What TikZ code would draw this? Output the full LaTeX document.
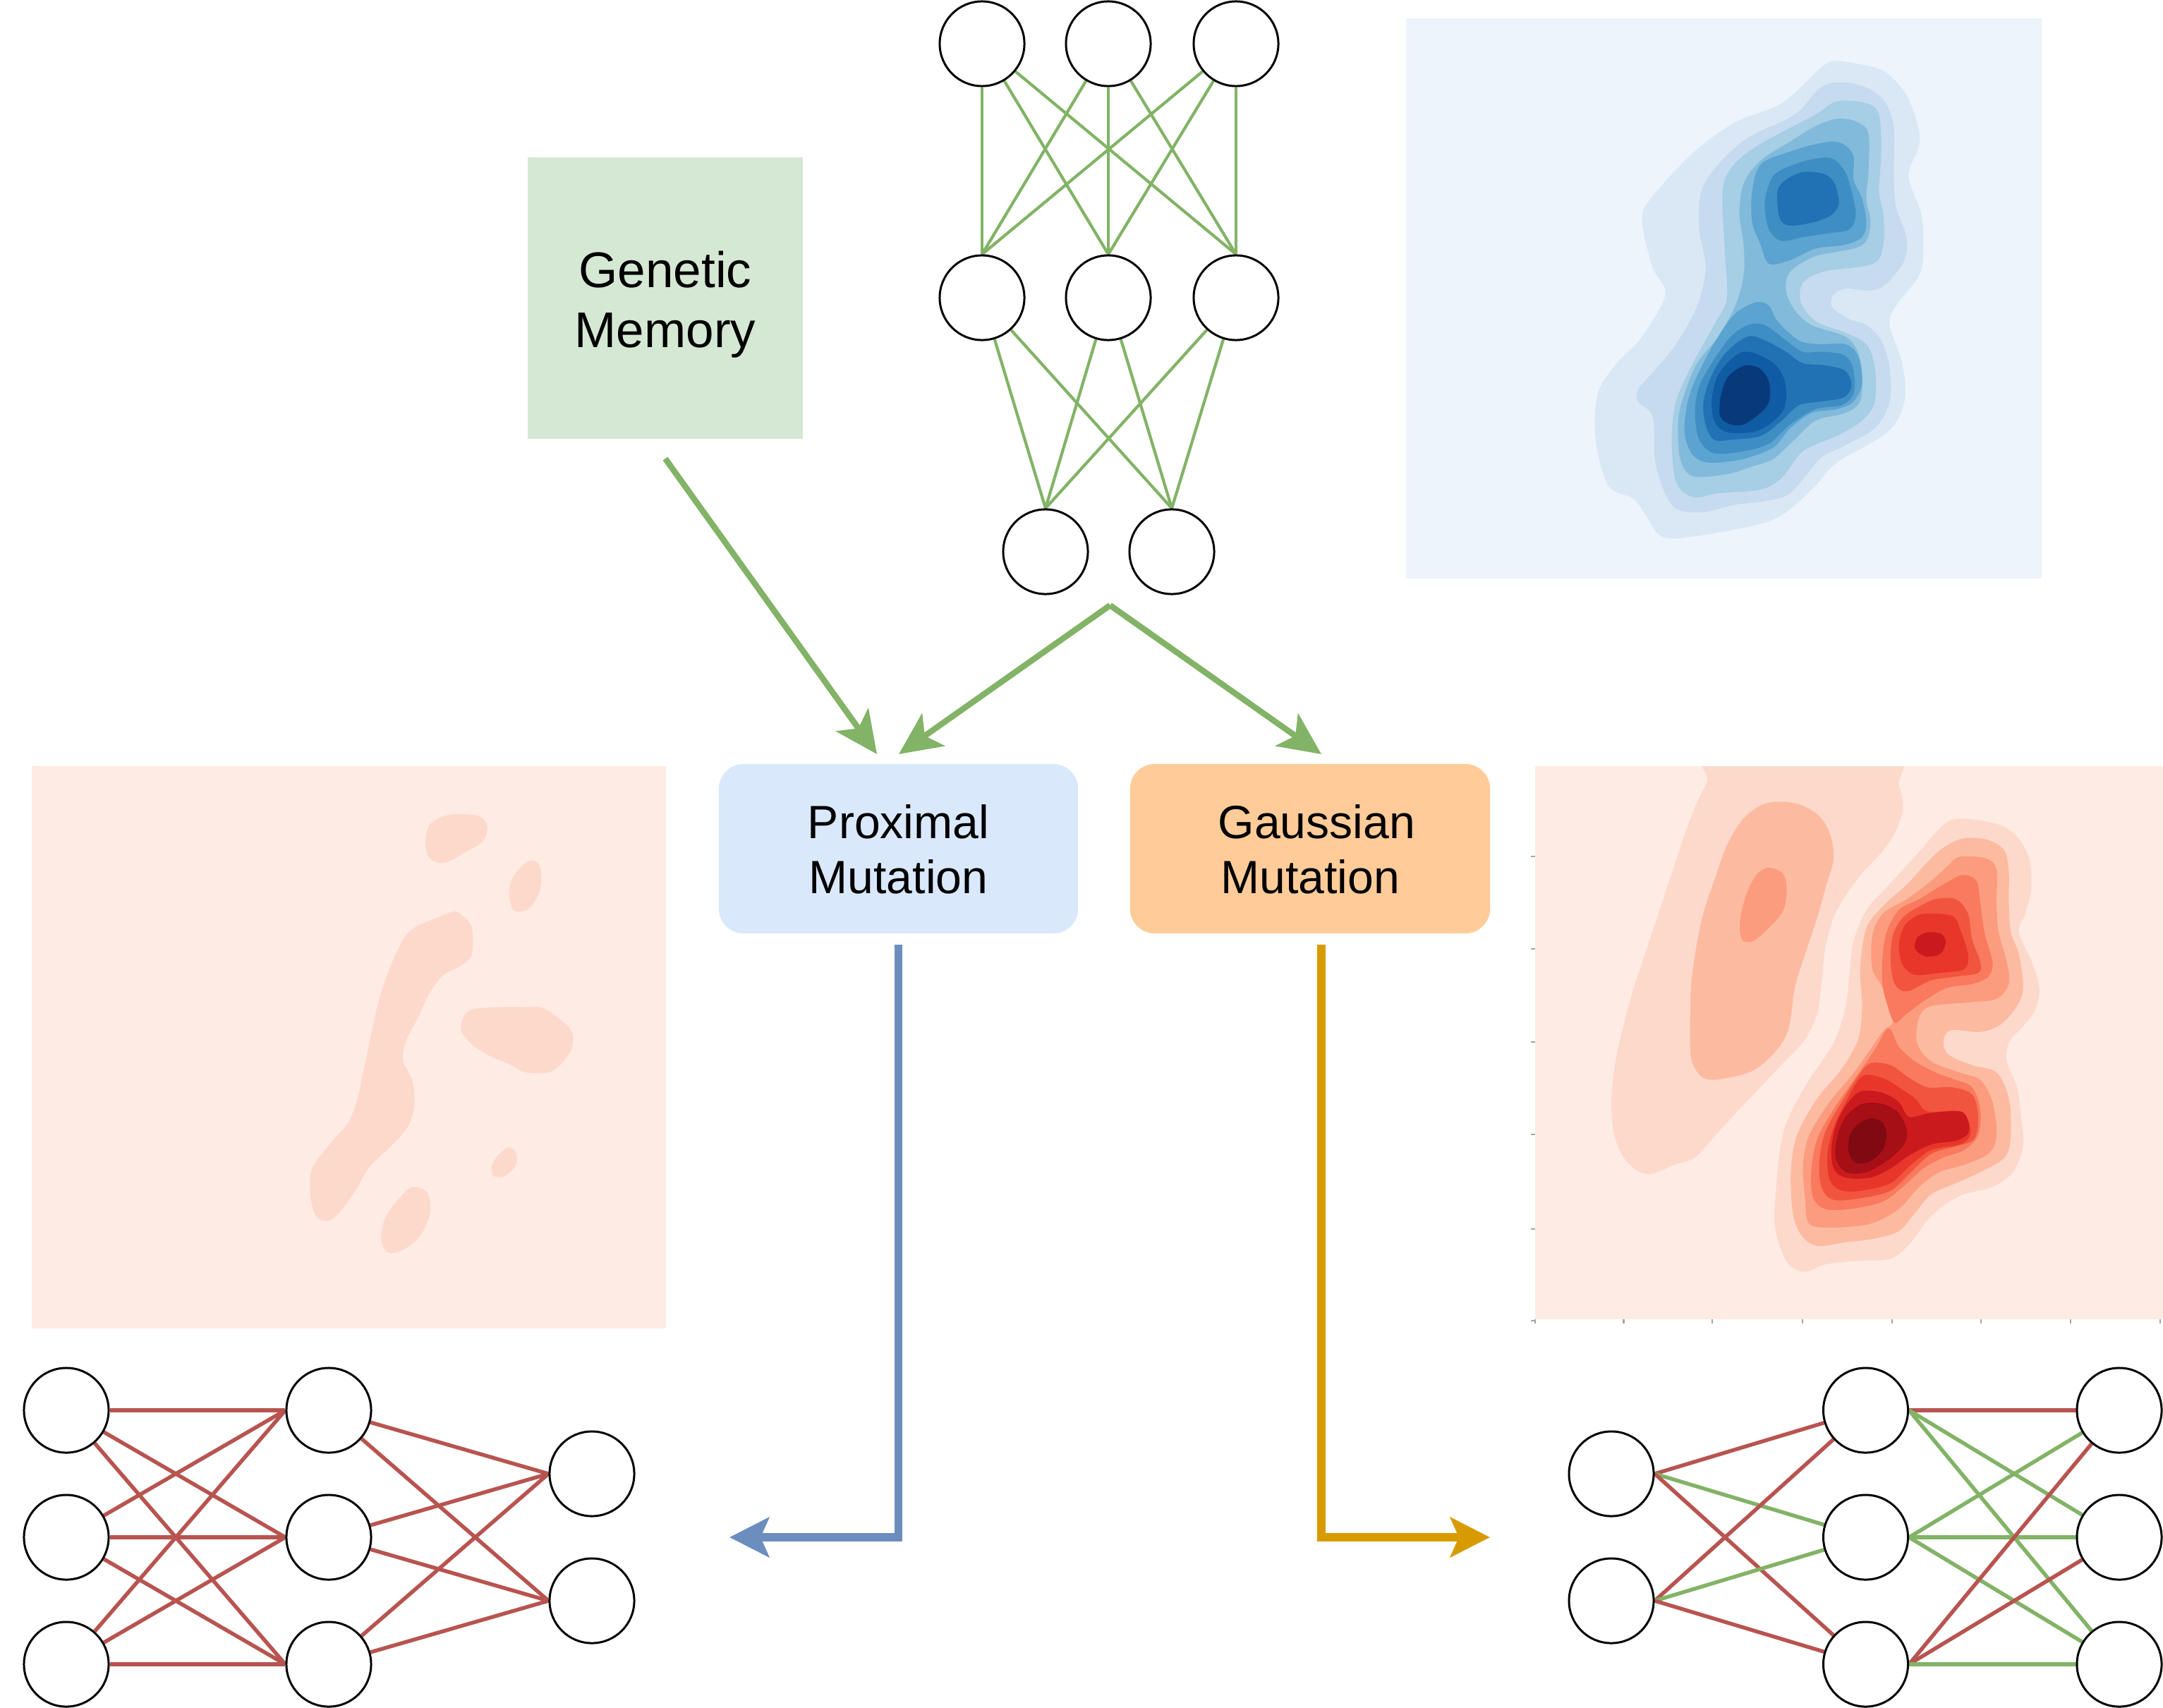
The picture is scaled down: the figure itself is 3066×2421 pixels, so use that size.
\documentclass[tikz,border=0pt]{standalone}
\usepackage{fontspec}
\setmainfont{Liberation Sans}
\usetikzlibrary{arrows.meta,calc}
\definecolor{dgreen}{HTML}{82B366}
\definecolor{dred}{HTML}{B85450}
\definecolor{dblue}{HTML}{6C8EBF}
\definecolor{dorange}{HTML}{D79B00}
\definecolor{gmfill}{HTML}{D5E8D4}
\definecolor{pmfill}{HTML}{DAE8FC}
\definecolor{gafill}{HTML}{FFCC99}
\definecolor{bB0}{HTML}{EDF4FB}
\definecolor{bB1}{HTML}{DAE8F5}
\definecolor{bB2}{HTML}{C6DBEF}
\definecolor{bB3}{HTML}{A6CEE4}
\definecolor{bB4}{HTML}{82BADB}
\definecolor{bB5}{HTML}{5BA3D0}
\definecolor{bB6}{HTML}{3E8EC4}
\definecolor{bB7}{HTML}{2171B5}
\definecolor{bB8}{HTML}{0F5BA4}
\definecolor{bB9}{HTML}{083A7A}
\definecolor{rR0}{HTML}{FEEBE3}
\definecolor{rR1}{HTML}{FDD9CC}
\definecolor{rR2}{HTML}{FCBBA1}
\definecolor{rR3}{HTML}{FC9C7F}
\definecolor{rR4}{HTML}{F97A5E}
\definecolor{rR5}{HTML}{F2553F}
\definecolor{rR6}{HTML}{E8372A}
\definecolor{rR7}{HTML}{CB1A1E}
\definecolor{rR8}{HTML}{A50F15}
\definecolor{rR9}{HTML}{7F0A12}
\pgfdeclarelayer{edges}
\pgfsetlayers{edges,main}
\begin{document}
\begin{tikzpicture}[x=0.01cm,y=-0.01cm,
  neuron/.style={circle,draw=black,line width=0.85pt,fill=white,minimum size=1.2cm,inner sep=0pt},
  gline/.style={draw=dgreen,line width=1.2pt},
  gline2/.style={draw=dgreen,line width=1.55pt},
  rline/.style={draw=dred,line width=1.55pt},
  garrow/.style={draw=dgreen,line width=2.4pt,-{Stealth[length=6mm,width=5.6mm,inset=1.5mm]}},
  barrow/.style={draw=dblue,line width=3.3pt,-{Stealth[length=5.6mm,width=5.6mm,inset=1.2mm]}},
  oarrow/.style={draw=dorange,line width=3.3pt,-{Stealth[length=5.6mm,width=5.6mm,inset=1.2mm]}},
  blk/.style={inner sep=0pt,outer sep=0pt},
  lbl/.style={inner sep=0pt,align=center,text=black},
  axtick/.style={draw=gray!70,line width=0.6pt}
]
\useasboundingbox (0,0) rectangle (3066,2421);

% ---------------- blue density plot (top right) ----------------
\fill[bB0] (1993,25.5) rectangle (2894,820);
\begin{scope}
\clip (1993,25.5) rectangle (2894,820);
\begin{scope}[shift={(1980,0)},xscale=0.5995,yscale=0.542]
\fill[bB1] plot[smooth cycle,tension=0.55] coordinates {(1030,160) (1080,165) (1150,185) (1200,240) (1230,320) (1235,380) (1210,460) (1240,560) (1245,650) (1235,720) (1180,800) (1165,850) (1195,950) (1200,1050) (1160,1130) (1040,1210) (990,1270) (920,1340) (860,1370) (720,1400) (630,1405) (590,1350) (560,1305) (500,1270) (470,1150) (475,1030) (520,950) (580,880) (635,770) (605,700) (580,580) (600,520) (700,400) (800,320) (910,270) (1000,180)};
\fill[bB2] plot[smooth cycle,tension=0.55] coordinates {(1045,215) (1100,225) (1150,260) (1175,330) (1175,450) (1180,540) (1205,620) (1200,680) (1160,740) (1120,760) (1060,755) (1030,775) (1030,805) (1070,835) (1110,850) (1145,890) (1165,960) (1165,1050) (1130,1120) (1050,1170) (1000,1200) (930,1290) (870,1310) (800,1320) (720,1340) (660,1330) (630,1280) (610,1200) (605,1090) (570,1050) (570,1020) (600,980) (660,900) (710,800) (730,700) (715,600) (720,500) (760,430) (830,360) (940,300) (1000,230)};
\fill[bB3] plot[smooth cycle,tension=0.55] coordinates {(1040,265) (1110,270) (1140,300) (1145,400) (1140,500) (1150,560) (1150,640) (1125,690) (1010,710) (960,740) (955,790) (990,840) (1060,870) (1110,900) (1130,960) (1130,1050) (1100,1100) (1040,1140) (960,1180) (910,1250) (860,1280) (760,1290) (700,1300) (660,1260) (650,1150) (660,1050) (700,950) (750,850) (780,780) (775,650) (770,500) (790,440) (840,390) (920,340) (990,300)};
\fill[bB4] plot[smooth cycle,tension=0.55] coordinates {(1045,310) (1090,320) (1115,350) (1115,450) (1110,520) (1120,580) (1110,630) (1080,650) (990,670) (930,710) (920,760) (940,810) (980,850) (1060,880) (1090,920) (1100,980) (1095,1050) (1060,1080) (990,1100) (940,1150) (890,1200) (840,1220) (780,1240) (700,1245) (670,1200) (665,1100) (680,1030) (710,950) (760,880) (800,800) (820,720) (820,640) (810,560) (820,480) (860,420) (930,370) (990,330)};
\fill[bB5] plot[smooth cycle,tension=0.55] coordinates {(1030,370) (1060,380) (1080,410) (1080,470) (1100,520) (1110,580) (1100,620) (1060,640) (990,650) (930,680) (880,690) (860,640) (840,580) (840,500) (860,430) (920,400) (980,380)};
\fill[bB5] plot[smooth cycle,tension=0.55] coordinates {(850,790) (880,800) (900,840) (950,890) (1000,900) (1060,900) (1090,930) (1100,1000) (1080,1050) (1040,1070) (980,1080) (930,1120) (890,1170) (820,1200) (740,1210) (700,1190) (680,1130) (690,1040) (720,960) (760,880) (800,820)};
\fill[bB6] plot[smooth cycle,tension=0.55] coordinates {(1030,415) (1060,450) (1075,500) (1085,560) (1070,600) (1020,610) (960,620) (910,630) (880,600) (870,530) (890,460) (940,430) (990,415)};
\fill[bB6] plot[smooth cycle,tension=0.55] coordinates {(830,850) (870,850) (920,890) (960,920) (1010,920) (1060,930) (1080,970) (1080,1030) (1050,1060) (990,1070) (930,1110) (880,1160) (820,1180) (750,1185) (715,1150) (705,1080) (715,1010) (750,940) (790,880)};
\fill[bB7] plot[smooth cycle,tension=0.55] coordinates {(960,450) (1010,455) (1035,480) (1045,530) (1030,560) (990,580) (930,590) (905,570) (900,500) (920,470)};
\fill[bB7] plot[smooth cycle,tension=0.55] coordinates {(830,880) (870,890) (920,920) (960,950) (1010,955) (1060,970) (1075,1010) (1055,1040) (1000,1050) (950,1060) (910,1100) (860,1140) (790,1150) (750,1150) (730,1110) (725,1050) (745,980) (780,920)};
\fill[bB8] plot[smooth cycle,tension=0.55] coordinates {(820,920) (860,930) (900,960) (920,1010) (915,1070) (880,1110) (840,1130) (780,1130) (750,1100) (745,1040) (760,980) (790,940)};
\fill[bB9] plot[smooth cycle,tension=0.55] coordinates {(830,955) (860,965) (880,1000) (880,1050) (860,1080) (820,1110) (790,1110) (765,1090) (765,1040) (780,990) (805,965)};
\end{scope}
\end{scope}

% ---------------- pale red density plot (bottom left) ----------------
\fill[rR0] (45,1086) rectangle (944,1883);
\begin{scope}[shift={(0,1060)},xscale=0.625,yscale=0.542]
\fill[rR1] plot[smooth cycle,tension=0.55] coordinates {(1020,175) (1085,178) (1105,205) (1095,245) (1060,270) (1010,300) (975,290) (965,250) (975,200)};
\fill[rR1] plot[smooth cycle,tension=0.55] coordinates {(1200,295) (1225,310) (1225,370) (1200,420) (1165,425) (1155,380) (1165,335)};
\fill[rR1] plot[smooth cycle,tension=0.55] coordinates {(1030,428) (1050,440) (1070,470) (1070,540) (1045,570) (1005,595) (975,640) (950,700) (920,770) (915,820) (935,870) (940,930) (930,980) (905,1020) (865,1065) (835,1100) (810,1150) (780,1200) (750,1235) (720,1230) (705,1180) (705,1110) (725,1070) (760,1020) (790,980) (810,920) (825,840) (840,760) (855,680) (870,620) (890,560) (915,500) (940,470) (990,445)};
\fill[rR1] plot[smooth cycle,tension=0.55] coordinates {(1060,690) (1100,680) (1190,678) (1230,680) (1270,710) (1298,745) (1295,790) (1270,830) (1240,850) (1190,848) (1160,830) (1110,805) (1070,775) (1045,735)};
\fill[rR1] plot[smooth cycle,tension=0.55] coordinates {(1155,1045) (1170,1060) (1170,1090) (1145,1120) (1120,1120) (1115,1095) (1130,1065)};
\fill[rR1] plot[smooth cycle,tension=0.55] coordinates {(940,1148) (970,1165) (975,1220) (950,1280) (910,1315) (880,1320) (865,1290) (870,1240) (890,1200) (920,1160)};
\end{scope}

% ---------------- red density plot (bottom right) ----------------
\fill[rR0] (2176,1086) rectangle (3066,1870);
\begin{scope}
\clip (2176,1086) rectangle (3066,1870);
\begin{scope}[shift={(2160,1060)},xscale=0.5777,yscale=0.523]
\fill[rR1] plot[smooth cycle,tension=0.55] coordinates {(470,20) (895,20) (920,100) (930,160) (915,220) (880,280) (830,340) (790,400) (760,460) (740,540) (730,640) (720,720) (690,790) (640,850) (580,920) (520,990) (470,1050) (420,1110) (370,1130) (310,1155) (270,1140) (240,1100) (220,1040) (215,950) (225,850) (245,750) (270,650) (300,550) (330,450) (360,350) (390,250) (420,160) (450,90)};
\fill[rR1] plot[smooth cycle,tension=0.55] coordinates {(1050,195) (1110,195) (1170,210) (1210,240) (1240,300) (1245,380) (1230,450) (1215,500) (1250,590) (1265,660) (1250,720) (1220,760) (1190,800) (1185,850) (1210,920) (1220,1000) (1225,1080) (1200,1150) (1150,1190) (1080,1210) (1030,1240) (990,1280) (950,1340) (900,1385) (820,1390) (740,1400) (690,1420) (650,1400) (625,1340) (615,1280) (620,1180) (630,1080) (650,1000) (700,900) (760,800) (790,700) (800,600) (810,520) (840,440) (880,390) (930,330) (980,270) (1010,230)};
\fill[rR2] plot[smooth cycle,tension=0.55] coordinates {(595,150) (665,150) (720,180) (750,230) (760,300) (740,380) (720,460) (690,560) (665,650) (650,760) (620,820) (570,870) (520,890) (460,900) (430,885) (410,840) (408,760) (410,650) (420,560) (440,450) (470,350) (500,260) (540,190)};
\fill[rR2] plot[smooth cycle,tension=0.55] coordinates {(1080,245) (1140,250) (1180,280) (1190,340) (1190,420) (1195,500) (1215,560) (1225,650) (1210,700) (1170,750) (1120,770) (1050,765) (1030,790) (1040,830) (1100,860) (1160,880) (1190,950) (1195,1050) (1180,1110) (1120,1150) (1060,1180) (1000,1210) (960,1260) (920,1310) (860,1330) (790,1340) (720,1350) (680,1320) (660,1260) (655,1150) (670,1050) (720,950) (780,870) (820,790) (830,700) (825,600) (840,490) (880,430) (940,370) (990,310) (1030,270)};
\fill[rR3] plot[smooth cycle,tension=0.55] coordinates {(600,325) (635,340) (645,380) (640,430) (625,460) (590,500) (560,525) (535,520) (530,470) (545,400) (570,345)};
\fill[rR3] plot[smooth cycle,tension=0.55] coordinates {(1070,295) (1135,300) (1160,330) (1160,420) (1165,500) (1185,580) (1190,640) (1160,680) (1090,690) (1000,700) (970,730) (965,800) (1000,850) (1070,880) (1120,900) (1150,960) (1160,1050) (1140,1100) (1080,1130) (1020,1150) (970,1190) (920,1250) (850,1290) (760,1300) (700,1290) (690,1220) (685,1130) (700,1050) (750,960) (810,880) (880,770) (905,740) (880,650) (855,600) (855,510) (880,450) (940,410) (1000,360) (1040,320)};
\fill[rR4] plot[smooth cycle,tension=0.55] coordinates {(1075,345) (1110,360) (1120,420) (1130,500) (1150,580) (1140,620) (1100,640) (1040,650) (990,680) (940,720) (910,745) (890,690) (880,640) (880,570) (890,500) (920,440) (970,410) (1030,370)};
\fill[rR4] plot[smooth cycle,tension=0.55] coordinates {(895,760) (920,810) (960,850) (1010,880) (1060,900) (1100,920) (1120,980) (1115,1050) (1080,1090) (1030,1110) (980,1140) (930,1190) (880,1230) (800,1250) (740,1250) (710,1220) (705,1150) (720,1060) (760,980) (810,900) (860,820)};
\fill[rR5] plot[smooth cycle,tension=0.55] coordinates {(1010,410) (1060,410) (1090,450) (1100,520) (1120,580) (1115,610) (1060,620) (1000,630) (940,660) (910,640) (900,580) (905,510) (930,460) (970,430)};
\fill[rR5] plot[smooth cycle,tension=0.55] coordinates {(850,855) (900,860) (940,890) (990,920) (1050,920) (1100,940) (1115,1000) (1105,1060) (1060,1080) (1000,1100) (950,1150) (900,1200) (830,1220) (760,1225) (730,1190) (725,1120) (740,1040) (780,960) (820,890)};
\fill[rR6] plot[smooth cycle,tension=0.55] coordinates {(980,450) (1050,455) (1070,490) (1090,560) (1080,600) (1020,610) (960,615) (930,590) (920,540) (930,490) (950,465)};
\fill[rR6] plot[smooth cycle,tension=0.55] coordinates {(830,890) (880,895) (920,920) (960,950) (990,985) (1060,985) (1090,1010) (1095,1050) (1070,1075) (1000,1090) (950,1130) (900,1180) (830,1200) (780,1200) (750,1170) (745,1100) (760,1030) (790,960)};
\fill[rR7] plot[smooth cycle,tension=0.55] coordinates {(990,500) (1025,505) (1035,530) (1020,560) (985,565) (960,545) (965,515)};
\fill[rR7] plot[smooth cycle,tension=0.55] coordinates {(830,930) (880,935) (920,960) (945,1000) (995,990) (1070,985) (1090,1010) (1090,1045) (1060,1065) (1000,1075) (945,1105) (900,1140) (850,1165) (790,1165) (760,1140) (755,1080) (770,1010) (800,955)};
\fill[rR8] plot[smooth cycle,tension=0.55] coordinates {(830,965) (880,965) (920,990) (940,1040) (930,1080) (890,1120) (840,1150) (790,1150) (765,1110) (770,1050) (790,1000)};
\fill[rR9] plot[smooth cycle,tension=0.55] coordinates {(850,1005) (880,1015) (890,1050) (880,1090) (850,1120) (815,1125) (797,1095) (800,1050) (820,1020)};
\end{scope}
\end{scope}
\foreach \yy in {1214,1345,1477,1608,1742,1872} \draw[axtick] (2170,\yy) -- (2176,\yy);
\foreach \xx in {2176,2301.5,2427,2554.6,2681.7,2808,2935,3062} \draw[axtick] (\xx,1870) -- (\xx,1876);

% ---------------- boxes ----------------
\node[blk,fill=gmfill,minimum width=3.9cm,minimum height=3.99cm] (gm) at (943,422.5) {};
\node[lbl,font=\fontsize{20.2pt}{24.2pt}\selectfont] (gmt) at (943,432) {Genetic\\Memory};
\node[blk,fill=pmfill,rounded corners=0.35cm,minimum width=5.09cm,minimum height=2.4cm] (prox) at (1273.5,1203) {};
\node[lbl,font=\fontsize{18.8pt}{22.2pt}\selectfont] (proxt) at (1273.5,1204) {Proximal\\Mutation};
\node[blk,fill=gafill,rounded corners=0.35cm,minimum width=5.1cm,minimum height=2.4cm] (gauss) at (1857,1203) {};
\node[lbl,font=\fontsize{18.8pt}{22.2pt}\selectfont] (gausst) at (1857,1204) {\hspace*{0.28em}Gaussian\\Mutation};

% ---------------- top network ----------------
\node[neuron] (t1) at (1392,62) {};
\node[neuron] (t2) at (1571,62) {};
\node[neuron] (t3) at (1752,62) {};
\node[neuron] (m1) at (1392,422) {};
\node[neuron] (m2) at (1571,422) {};
\node[neuron] (m3) at (1752,422) {};
\node[neuron] (o1) at (1482,782) {};
\node[neuron] (o2) at (1661,782) {};
\begin{pgfonlayer}{edges}
\foreach \a in {t1,t2,t3} \foreach \b in {m1,m2,m3} \draw[gline] (\a) -- (\b.north);
\foreach \a in {m1,m2,m3} \foreach \b in {o1,o2} \draw[gline] (\a) -- (\b.north);
\end{pgfonlayer}

% ---------------- bottom-left network ----------------
\node[neuron] (a1) at (94,1999) {};
\node[neuron] (a2) at (94,2179) {};
\node[neuron] (a3) at (94,2359) {};
\node[neuron] (c1) at (466,1999) {};
\node[neuron] (c2) at (466,2179) {};
\node[neuron] (c3) at (466,2359) {};
\node[neuron] (d1) at (839,2089) {};
\node[neuron] (d2) at (839,2269) {};
\begin{pgfonlayer}{edges}
\foreach \a in {a1,a2,a3} \foreach \b in {c1,c2,c3} \draw[rline] (\a) -- (\b.west);
\foreach \a in {c1,c2,c3} \foreach \b in {d1,d2} \draw[rline] (\a) -- (\b.west);
\end{pgfonlayer}

% ---------------- bottom-right network ----------------
\node[neuron] (p1) at (2284,2089) {};
\node[neuron] (p2) at (2284,2269) {};
\node[neuron] (q1) at (2644.5,1999) {};
\node[neuron] (q2) at (2644.5,2179) {};
\node[neuron] (q3) at (2644.5,2359) {};
\node[neuron] (r1) at (3004,1999) {};
\node[neuron] (r2) at (3004,2179) {};
\node[neuron] (r3) at (3004,2359) {};
\begin{pgfonlayer}{edges}
\draw[rline] (p1.east) -- (q1);
\draw[gline2] (p1.east) -- (q2);
\draw[rline] (p1.east) -- (q3);
\draw[rline] (p2.east) -- (q1);
\draw[gline2] (p2.east) -- (q2);
\draw[rline] (p2.east) -- (q3);
\draw[rline] (q1.east) -- (r1);
\draw[gline2] (q1.east) -- (r2);
\draw[gline2] (q1.east) -- (r3);
\draw[gline2] (q2.east) -- (r1);
\draw[gline2] (q2.east) -- (r2);
\draw[gline2] (q2.east) -- (r3);
\draw[rline] (q3.east) -- (r1);
\draw[rline] (q3.east) -- (r2);
\draw[gline2] (q3.east) -- (r3);
\end{pgfonlayer}

% ---------------- arrows ----------------
\coordinate (gms) at ($(gm.south)+(0,28)$);
\coordinate (gme) at (1243,1069);
\draw[garrow] (gms) -- (gme);
\coordinate (split) at (1573.5,858);
\coordinate (pe) at (1274,1069);
\coordinate (ge) at (1873,1069);
\draw[garrow] (split) -- (pe);
\draw[garrow] (split) -- (ge);
\coordinate (ps) at ($(prox.south)+(0,16)$);
\coordinate (pt) at (1034,2179);
\draw[barrow] (ps) |- (pt);
\coordinate (gs) at ($(gauss.south)+(16,16)$);
\coordinate (gt) at (2112,2179);
\draw[oarrow] (gs) |- (gt);
\end{tikzpicture}
\end{document}
